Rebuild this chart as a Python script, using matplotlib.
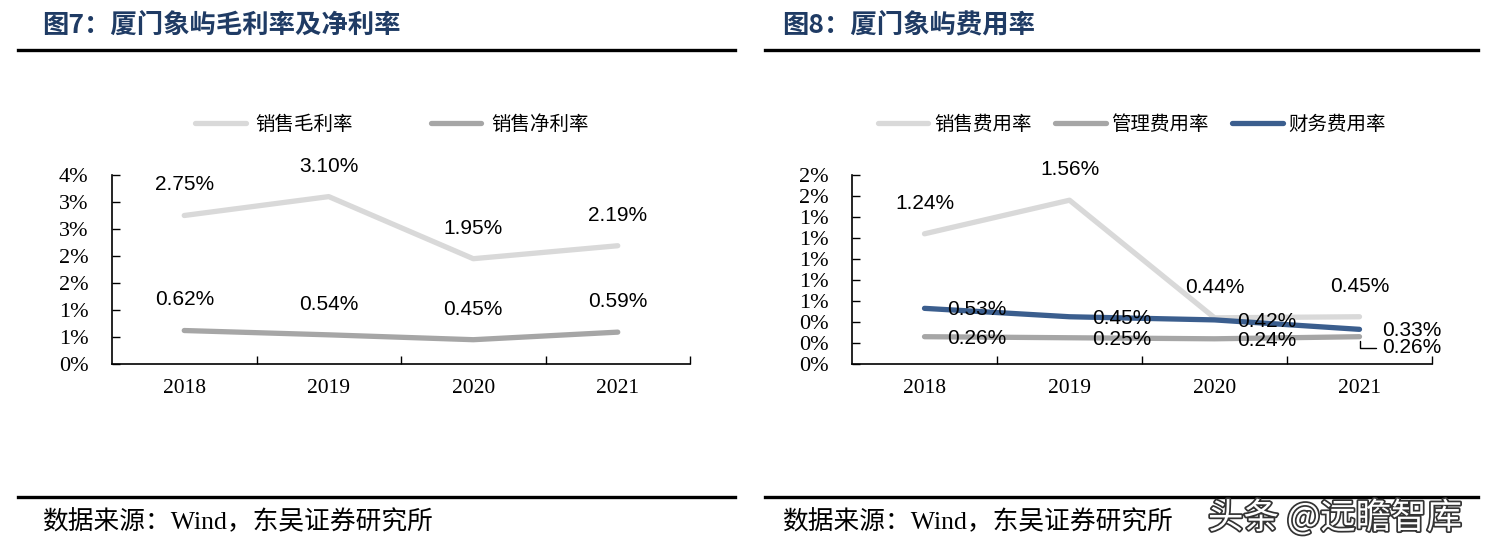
import matplotlib
matplotlib.use('Agg')
import matplotlib.pyplot as plt
import matplotlib.patheffects as pe
from matplotlib.lines import Line2D

# -------------------------------------------------
# data
# -------------------------------------------------
years = ['2018', '2019', '2020', '2021']

gross_margin = [2.75, 3.10, 1.95, 2.19]     # 销售毛利率 (%)
net_margin = [0.62, 0.54, 0.45, 0.59]       # 销售净利率 (%)

sales_exp = [1.24, 1.56, 0.44, 0.45]        # 销售费用率 (%)
admin_exp = [0.26, 0.25, 0.24, 0.26]        # 管理费用率 (%)
fin_exp = [0.53, 0.45, 0.42, 0.33]          # 财务费用率 (%)

left_yticks = [0, 0.5, 1.0, 1.5, 2.0, 2.5, 3.0, 3.5]
left_ylabels = ['0%', '1%', '1%', '2%', '2%', '3%', '3%', '4%']
right_yticks = [0, 0.2, 0.4, 0.6, 0.8, 1.0, 1.2, 1.4, 1.6, 1.8]
right_ylabels = ['0%', '0%', '0%', '1%', '1%', '1%', '1%', '1%', '2%', '2%']

# -------------------------------------------------
# styling
# -------------------------------------------------
CJK = ['Noto Sans CJK SC', 'DejaVu Sans']
SERIF = ['Liberation Serif', 'Noto Sans CJK SC']
SANS = ['Liberation Sans', 'DejaVu Sans']
NAVY = '#1F3B64'
LIGHT = '#D9D9D9'
MID = '#A6A6A6'
BLUE = '#3B5E8E'

W, H = 1501, 551
fig = plt.figure(figsize=(W / 100, H / 100), dpi=100)


def fx(px):
    return px / W


def fy(py):
    return 1 - py / H


def panel(x0, x1, title, tx):
    fig.text(fx(tx), fy(25), title, fontsize=19, fontweight='bold', color=NAVY,
             family=CJK, ha='left', va='center')
    fig.add_artist(Line2D([fx(x0), fx(x1)], [fy(50), fy(50)], color='black', lw=2.4))
    fig.add_artist(Line2D([fx(x0), fx(x1)], [fy(497), fy(497)], color='black', lw=2.4))
    fig.text(fx(tx), fy(522), '数据来源：Wind，东吴证券研究所', fontsize=18.5,
             family=SERIF, ha='left', va='center')


def setup_axes(ax, yticks, ylabels):
    ax.set_xlim(-0.5, len(years) - 0.5)
    ax.set_ylim(yticks[0], yticks[-1])
    ax.set_xticks(range(len(years)))
    ax.set_xticklabels(years, family=SERIF, fontsize=15.5)
    ax.set_xticks([i + 0.5 for i in range(len(years))], minor=True)
    ax.tick_params(axis='x', which='major', length=0, pad=11)
    ax.tick_params(axis='x', which='minor', direction='in', length=6, width=1)
    ax.set_yticks(yticks)
    ax.set_yticklabels(ylabels, family=SERIF, fontsize=16)
    ax.tick_params(axis='y', direction='in', length=6, width=1, pad=17)
    for s in ['top', 'right']:
        ax.spines[s].set_visible(False)
    for s in ['left', 'bottom']:
        ax.spines[s].set_linewidth(1.2)


def label_above(ax, vals):
    for i, v in enumerate(vals):
        ax.annotate(f'{v:.2f}%', (i, v), xytext=(0, 22), textcoords='offset points',
                    ha='center', va='center', fontsize=15, family=SANS)


def label_right(ax, vals, skip_last=False):
    for i, v in enumerate(vals):
        if skip_last and i == len(vals) - 1:
            continue
        ax.annotate(f'{v:.2f}%', (i, v), xytext=(16, -1), textcoords='offset points',
                    ha='left', va='center', fontsize=15, family=SANS)


# -------------------------------------------------
# left panel: 毛利率及净利率
# -------------------------------------------------
panel(18, 735, '图7：厦门象屿毛利率及净利率', 42)
ax1 = fig.add_axes([fx(112), fy(364), fx(690) - fx(112), fy(175) - fy(364)])
x = range(len(years))
ax1.plot(x, gross_margin, color=LIGHT, lw=3.8, solid_capstyle='round', label='销售毛利率')
ax1.plot(x, net_margin, color=MID, lw=3.8, solid_capstyle='round', label='销售净利率')
setup_axes(ax1, left_yticks, left_ylabels)
label_above(ax1, gross_margin)
label_above(ax1, net_margin)
ax1.legend(loc='center', bbox_to_anchor=(fx(392), fy(124)), bbox_transform=fig.transFigure,
           ncol=2, frameon=False, prop={'family': CJK, 'size': 14},
           handlelength=2.6, handletextpad=0.5, columnspacing=4.0)

# -------------------------------------------------
# right panel: 费用率
# -------------------------------------------------
panel(765, 1478, '图8：厦门象屿费用率', 782)
ax2 = fig.add_axes([fx(852), fy(364), fx(1432) - fx(852), fy(175) - fy(364)])
ax2.plot(x, sales_exp, color=LIGHT, lw=3.8, solid_capstyle='round', label='销售费用率')
ax2.plot(x, admin_exp, color=MID, lw=3.8, solid_capstyle='round', label='管理费用率')
ax2.plot(x, fin_exp, color=BLUE, lw=3.8, solid_capstyle='round', label='财务费用率')
setup_axes(ax2, right_yticks, right_ylabels)
label_above(ax2, sales_exp)
label_right(ax2, fin_exp)
label_right(ax2, admin_exp, skip_last=True)
last = len(years) - 1
ax2.annotate(f'{admin_exp[last]:.2f}%', (last, admin_exp[last]), xytext=(16, -8),
             textcoords='offset points', ha='left', va='center', fontsize=15, family=SANS,
             arrowprops=dict(arrowstyle='-', color='black', lw=1,
                             connectionstyle='angle,angleA=0,angleB=90,rad=0',
                             shrinkA=2, shrinkB=3, relpos=(0, 0.5)))
ax2.legend(loc='center', bbox_to_anchor=(fx(1132), fy(124)), bbox_transform=fig.transFigure,
           ncol=3, frameon=False, prop={'family': CJK, 'size': 14},
           handlelength=2.6, handletextpad=0.3, columnspacing=1.2)

# watermark
fig.text(fx(1208), fy(518), '头条 @远瞻智库', fontsize=25.5, color='white', family=CJK,
         ha='left', va='center',
         path_effects=[pe.withStroke(linewidth=2.5, foreground='#333333')])

fig.savefig('out.png', dpi=100)
